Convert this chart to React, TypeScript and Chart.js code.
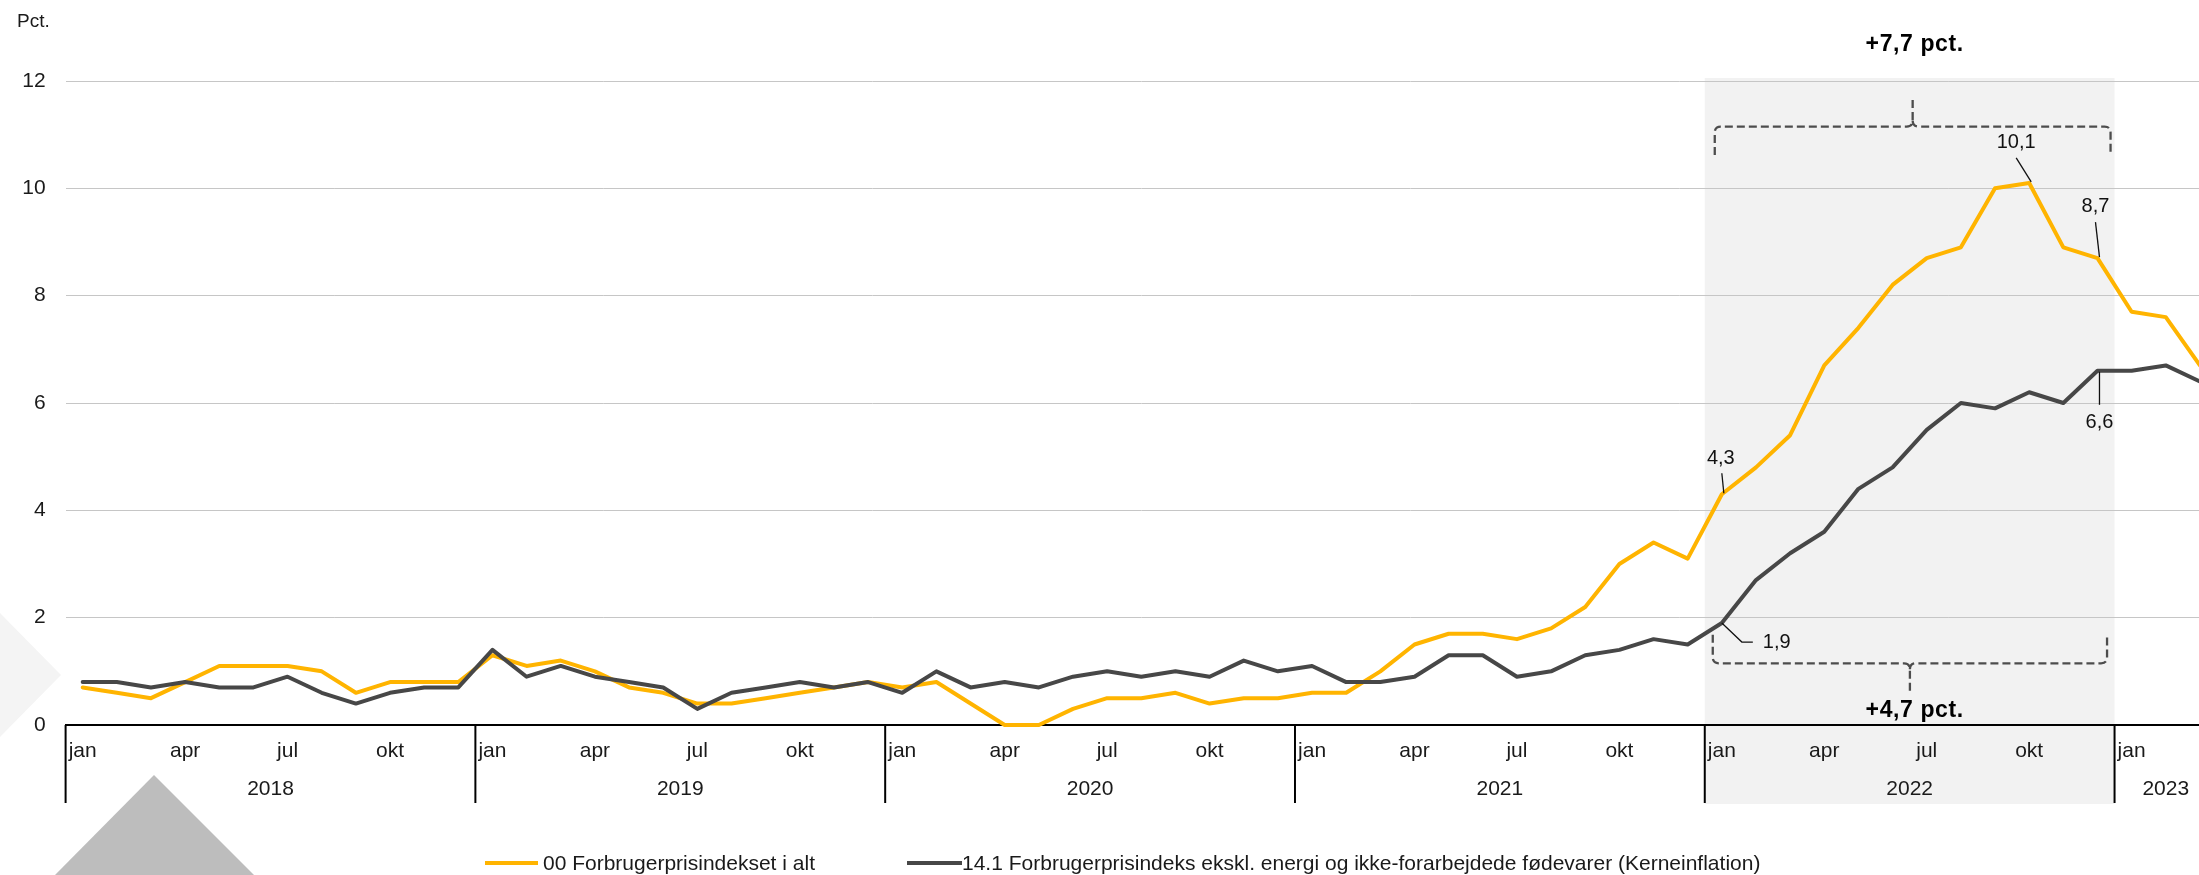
import React, { useEffect, useRef } from 'react';
import { Chart, registerables } from 'chart.js';

Chart.register(...registerables);

// ---------- data ----------
const YEARS = ['2018', '2019', '2020', '2021', '2022', '2023'];
const MONTHS_IN_YEAR = [12, 12, 12, 12, 12, 3];
const MONTH_NAMES = ['jan', 'feb', 'mar', 'apr', 'maj', 'jun', 'jul', 'aug', 'sep', 'okt', 'nov', 'dec'];
const SHOWN_MONTHS = ['jan', 'apr', 'jul', 'okt'];

const CATEGORIES: string[] = [];
YEARS.forEach((yr, k) => {
  for (let m = 0; m < MONTHS_IN_YEAR[k]; m++) CATEGORIES.push(MONTH_NAMES[m] + ' ' + yr);
});

const CPI = [
  0.7, 0.6, 0.5, 0.8, 1.1, 1.1, 1.1, 1.0, 0.6, 0.8, 0.8, 0.8,
  1.3, 1.1, 1.2, 1.0, 0.7, 0.6, 0.4, 0.4, 0.5, 0.6, 0.7, 0.8,
  0.7, 0.8, 0.4, 0.0, 0.0, 0.3, 0.5, 0.5, 0.6, 0.4, 0.5, 0.5,
  0.6, 0.6, 1.0, 1.5, 1.7, 1.7, 1.6, 1.8, 2.2, 3.0, 3.4, 3.1,
  4.3, 4.8, 5.4, 6.7, 7.4, 8.2, 8.7, 8.9, 10.0, 10.1, 8.9, 8.7,
  7.7, 7.6, 6.7,
];

const CORE = [
  0.8, 0.8, 0.7, 0.8, 0.7, 0.7, 0.9, 0.6, 0.4, 0.6, 0.7, 0.7,
  1.4, 0.9, 1.1, 0.9, 0.8, 0.7, 0.3, 0.6, 0.7, 0.8, 0.7, 0.8,
  0.6, 1.0, 0.7, 0.8, 0.7, 0.9, 1.0, 0.9, 1.0, 0.9, 1.2, 1.0,
  1.1, 0.8, 0.8, 0.9, 1.3, 1.3, 0.9, 1.0, 1.3, 1.4, 1.6, 1.5,
  1.9, 2.7, 3.2, 3.6, 4.4, 4.8, 5.5, 6.0, 5.9, 6.2, 6.0, 6.6,
  6.6, 6.7, 6.4,
];

const SERIES_NAMES = [
  '00 Forbrugerprisindekset i alt',
  '14.1 Forbrugerprisindeks ekskl. energi og ikke-forarbejdede fødevarer (Kerneinflation)',
];

const Y_MIN = 0;
const Y_MAX = 12;
const Y_STEP = 2;

const SHADE_START = 48; // jan 2022
const SHADE_END = 59; // dec 2022

const TOP_NOTE = '+7,7 pct.';
const BOTTOM_NOTE = '+4,7 pct.';

// point labels: dataset, index, text
const POINT_LABELS = [
  { ds: 0, idx: 48, text: '4,3' },
  { ds: 0, idx: 57, text: '10,1' },
  { ds: 0, idx: 59, text: '8,7' },
  { ds: 1, idx: 59, text: '6,6' },
  { ds: 1, idx: 48, text: '1,9' },
];

// ---------- styles ----------
const YELLOW = '#FFB400';
const DARK = '#474747';
const FONT = '"Liberation Sans", Arial, sans-serif';
const TEXT = '#1a1a1a';

// leader geometry (offsets from the data point, px)
const LEADERS: Record<string, { tx: number; ty: number; align: CanvasTextAlign; path: number[][] }> = {
  '4,3': { tx: -1, ty: -36, align: 'center', path: [[0, -21], [2, -1]] },
  '10,1': { tx: -13, ty: -40, align: 'center', path: [[-13, -25], [2, -1]] },
  '8,7': { tx: -2, ty: -52, align: 'center', path: [[-2, -36], [2, -1]] },
  '6,6': { tx: 2, ty: 52, align: 'center', path: [[2, 1], [2, 34]] },
  '1,9': { tx: 41, ty: 19, align: 'left', path: [[0, 0], [20, 19], [31, 19]] },
};

function bracket(ctx: CanvasRenderingContext2D, x0: number, x1: number, yLine: number, yEnd: number, yTip: number, r: number) {
  const xc = (x0 + x1) / 2;
  const dE = Math.sign(yEnd - yLine);
  const dT = Math.sign(yTip - yLine);
  ctx.beginPath();
  ctx.moveTo(x0, yEnd);
  ctx.lineTo(x0, yLine + dE * r);
  ctx.quadraticCurveTo(x0, yLine, x0 + r, yLine);
  ctx.lineTo(xc - r, yLine);
  ctx.quadraticCurveTo(xc, yLine, xc, yLine + dT * r);
  ctx.lineTo(xc, yTip);
  ctx.moveTo(xc, yLine + dT * r);
  ctx.quadraticCurveTo(xc, yLine, xc + r, yLine);
  ctx.lineTo(x1 - r, yLine);
  ctx.quadraticCurveTo(x1, yLine, x1, yLine + dE * r);
  ctx.lineTo(x1, yEnd);
  ctx.stroke();
}

const decoPlugin = {
  id: 'deco',
  beforeDraw(chart: any) {
    const { ctx, chartArea: ca, scales } = chart;
    const x = scales.x;
    ctx.save();
    // decorative background triangles
    ctx.fillStyle = '#f4f4f4';
    ctx.beginPath();
    ctx.moveTo(0, 613);
    ctx.lineTo(61, 675);
    ctx.lineTo(0, 737);
    ctx.closePath();
    ctx.fill();
    ctx.fillStyle = '#bdbdbd';
    ctx.beginPath();
    ctx.moveTo(54, 876);
    ctx.lineTo(154, 775);
    ctx.lineTo(255, 876);
    ctx.closePath();
    ctx.fill();
    // shaded 2022 band
    const half = (x.getPixelForValue(1) - x.getPixelForValue(0)) / 2;
    const sx0 = x.getPixelForValue(SHADE_START) - half;
    const sx1 = x.getPixelForValue(SHADE_END) + half;
    ctx.fillStyle = '#f2f2f2';
    ctx.fillRect(sx0, ca.top - 3, sx1 - sx0, ca.bottom + 79 - (ca.top - 3));
    ctx.restore();
  },
  afterDraw(chart: any) {
    const { ctx, chartArea: ca, scales } = chart;
    const x = scales.x;
    const y = scales.y;
    const half = (x.getPixelForValue(1) - x.getPixelForValue(0)) / 2;
    ctx.save();

    // year separators and labels
    ctx.strokeStyle = '#000';
    ctx.lineWidth = 2;
    ctx.fillStyle = TEXT;
    ctx.font = `21px ${FONT}`;
    ctx.textAlign = 'center';
    ctx.textBaseline = 'middle';
    let start = 0;
    YEARS.forEach((yr, k) => {
      const n = MONTHS_IN_YEAR[k];
      const left = x.getPixelForValue(start) - half;
      ctx.beginPath();
      ctx.moveTo(left, ca.bottom);
      ctx.lineTo(left, ca.bottom + 78);
      ctx.stroke();
      const cx = (x.getPixelForValue(start) + x.getPixelForValue(start + n - 1)) / 2;
      ctx.fillText(yr, cx, ca.bottom + 64);
      start += n;
    });
    const endX = x.getPixelForValue(start - 1) + half;
    ctx.beginPath();
    ctx.moveTo(endX, ca.bottom);
    ctx.lineTo(endX, ca.bottom + 78);
    ctx.stroke();

    // unit label
    ctx.textAlign = 'left';
    ctx.font = `19px ${FONT}`;
    ctx.fillText('Pct.', 17, 22);

    // brackets
    const bx0 = x.getPixelForValue(SHADE_START) - half;
    const bx1 = x.getPixelForValue(SHADE_END) + half;
    ctx.strokeStyle = '#4d4d4d';
    ctx.lineWidth = 2.3;
    ctx.setLineDash([8, 4]);
    bracket(ctx, bx0 + 10, bx1 - 4, y.getPixelForValue(11.15), y.getPixelForValue(10.62), y.getPixelForValue(11.7), 6);
    bracket(ctx, bx0 + 8, bx1 - 7.5, y.getPixelForValue(1.15), y.getPixelForValue(1.68), y.getPixelForValue(0.6), 6);
    ctx.setLineDash([]);

    const cxB = (bx0 + bx1) / 2 + 5;
    ctx.font = `bold 23px ${FONT}`;
    (ctx as any).letterSpacing = '0.6px';
    ctx.textAlign = 'center';
    ctx.fillStyle = '#000';
    ctx.fillText(TOP_NOTE, cxB, y.getPixelForValue(12.68));
    ctx.fillText(BOTTOM_NOTE, cxB, y.getPixelForValue(0.26));
    (ctx as any).letterSpacing = '0px';

    // point labels with leader lines
    ctx.font = `20px ${FONT}`;
    ctx.strokeStyle = '#111';
    ctx.lineWidth = 1.3;
    ctx.fillStyle = '#111';
    POINT_LABELS.forEach((pl) => {
      const data = pl.ds === 0 ? CPI : CORE;
      const px = x.getPixelForValue(pl.idx);
      const py = y.getPixelForValue(data[pl.idx]);
      const g = LEADERS[pl.text];
      ctx.beginPath();
      g.path.forEach((p, i) => {
        if (i === 0) ctx.moveTo(px + p[0], py + p[1]);
        else ctx.lineTo(px + p[0], py + p[1]);
      });
      ctx.stroke();
      ctx.textAlign = g.align;
      ctx.fillText(pl.text, px + g.tx, py + g.ty);
    });

    ctx.restore();
  },
};

export default function App() {
  const ref = useRef<HTMLCanvasElement | null>(null);

  useEffect(() => {
    if (!ref.current) return;
    const chart = new Chart(ref.current, {
      type: 'line',
      data: {
        labels: CATEGORIES,
        datasets: [
          {
            label: SERIES_NAMES[0],
            data: CPI,
            borderColor: YELLOW,
            backgroundColor: YELLOW,
            borderWidth: 4,
            pointRadius: 0,
            tension: 0,
            borderJoinStyle: 'round',
            borderCapStyle: 'round',
            clip: false as any,
            order: 1,
          },
          {
            label: SERIES_NAMES[1],
            data: CORE,
            borderColor: DARK,
            backgroundColor: DARK,
            borderWidth: 4,
            pointRadius: 0,
            tension: 0,
            borderJoinStyle: 'round',
            borderCapStyle: 'round',
            clip: false as any,
            order: 0,
          },
        ],
      },
      options: {
        responsive: false,
        animation: false,
        layout: { padding: { top: 81, left: 0, right: 0, bottom: 0 } },
        plugins: {
          legend: { display: false },
          tooltip: { enabled: false },
        },
        scales: {
          x: {
            type: 'category',
            offset: true,
            grid: { display: false, drawTicks: false },
            border: { display: true, color: '#000', width: 2 },
            ticks: {
              autoSkip: false,
              maxRotation: 0,
              minRotation: 0,
              padding: 14,
              color: TEXT,
              font: { family: FONT, size: 21 },
              callback: (_v: any, i: number) => {
                const m = CATEGORIES[i].split(' ')[0];
                return SHOWN_MONTHS.includes(m) ? m : '';
              },
            },
            afterFit: (s: any) => {
              s.height = 150;
            },
          },
          y: {
            min: Y_MIN,
            max: Y_MAX,
            ticks: {
              stepSize: Y_STEP,
              padding: 20,
              color: TEXT,
              font: { family: FONT, size: 21 },
            },
            grid: { color: '#c6c6c6', lineWidth: 1, drawTicks: false },
            border: { display: false },
            afterFit: (s: any) => {
              s.width = 65.6;
            },
          },
        },
      },
      plugins: [decoPlugin],
    });
    return () => chart.destroy();
  }, []);

  const legendText: React.CSSProperties = {
    position: 'absolute',
    top: 850,
    font: `21px ${FONT}`,
    lineHeight: '25px',
    color: TEXT,
    whiteSpace: 'nowrap',
  };

  return (
    <div
      style={{
        position: 'absolute',
        left: 0,
        top: 0,
        width: 2199,
        height: 875,
        overflow: 'hidden',
        background: '#fff',
      }}
    >
      <canvas
        ref={ref}
        width={2217}
        height={875}
        style={{ position: 'absolute', left: 0, top: 0, width: 2217, height: 875 }}
      />
      <div style={{ position: 'absolute', left: 485, top: 861, width: 53, height: 4, background: YELLOW }} />
      <div style={{ ...legendText, left: 543 }}>{SERIES_NAMES[0]}</div>
      <div style={{ position: 'absolute', left: 907, top: 861, width: 55, height: 4, background: DARK }} />
      <div style={{ ...legendText, left: 962 }}>{SERIES_NAMES[1]}</div>
    </div>
  );
}
